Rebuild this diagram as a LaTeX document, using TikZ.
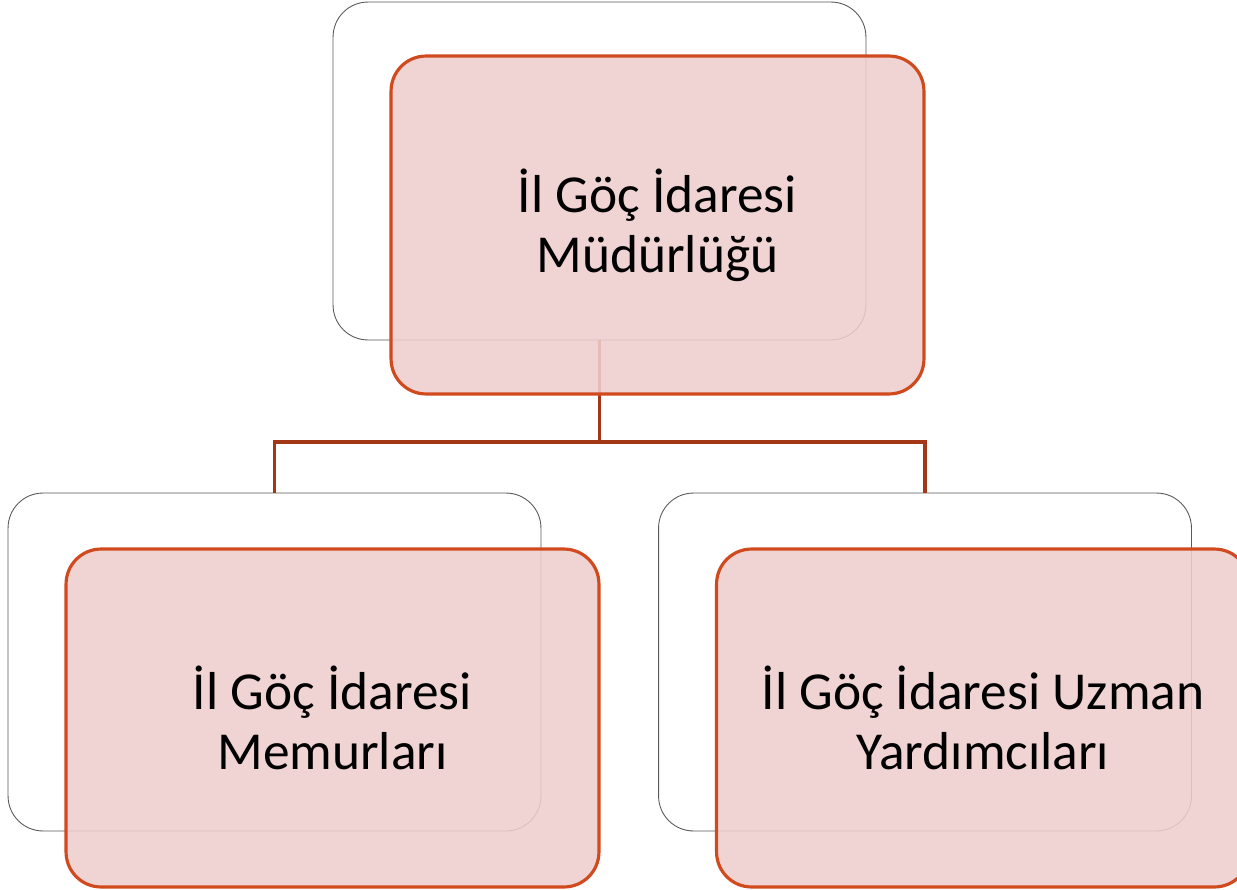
\documentclass[tikz,border=0pt]{standalone}
\usepackage{fontspec}
\setmainfont{Carlito}
\usetikzlibrary{positioning}
\definecolor{boxfill}{RGB}{238,205,205}
\definecolor{boxline}{RGB}{208,74,30}
\definecolor{linkline}{RGB}{165,55,25}

\begin{document}
\begin{tikzpicture}[x=0.02cm, y=-0.02cm,
  back/.style={draw=black!65, line width=0.5pt, rounded corners=0.7cm, fill=white, minimum width=10.66cm, minimum height=6.76cm},
  unit/.style={draw=boxline, line width=1.8pt, fill=boxfill, fill opacity=0.88, text opacity=1, rounded corners=0.7cm, minimum width=10.66cm, minimum height=6.76cm, align=center, font=\fontsize{30.4}{34}\selectfont},
  link/.style={draw=linkline, line width=2pt}]
\useasboundingbox (0,0) rectangle (1237,889);
% back frames
\node[back] (b0) at (599.5,171) {};
\node[back] (b1) at (274.5,662) {};
\node[back] (b2) at (925,662) {};
% connectors
\coordinate (bus) at (0,442);
\draw[link] (b0.south) -- (b0.south |- bus) -| (b1.north);
\draw[link] (b0.south |- bus) -| (b2.north);
% front boxes
\node[unit] (u0) at ([shift={(58,54)}]b0.center) {İl Göç İdaresi\\Müdürlüğü};
\node[unit] (u1) at ([shift={(58,56)}]b1.center) {İl Göç İdaresi\\Memurları};
\node[unit] (u2) at ([shift={(58,56)}]b2.center) {İl Göç İdaresi Uzman\\Yardımcıları};
\end{tikzpicture}
\end{document}
